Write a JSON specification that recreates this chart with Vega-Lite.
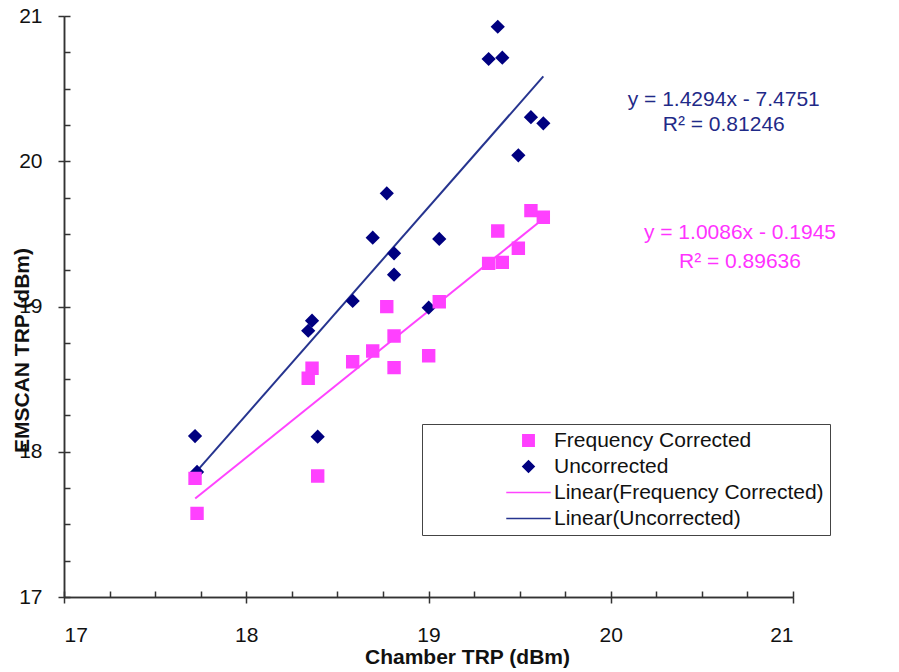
{
  "$schema": "https://vega.github.io/schema/vega-lite/v6.json",
  "autosize": {"type": "none"},
  "width": 729,
  "height": 581,
  "padding": {"left": 64, "top": 16, "right": 106, "bottom": 75},
  "background": "white",
  "config": {
    "view": {"stroke": null},
    "font": "Liberation Sans",
    "axis": {"grid": false, "domainColor": "#333333", "domainWidth": 1.5, "tickColor": "#333333", "tickWidth": 1.5, "labelFont": "Liberation Sans", "labelColor": "#111111", "titleFont": "Liberation Sans", "titleColor": "#111111"}
  },
  "datasets": {
    "points": [
      {"series": "Uncorrected", "x": 17.719, "y": 18.108},
      {"series": "Uncorrected", "x": 17.730, "y": 17.861},
      {"series": "Uncorrected", "x": 18.340, "y": 18.833},
      {"series": "Uncorrected", "x": 18.361, "y": 18.902},
      {"series": "Uncorrected", "x": 18.392, "y": 18.104},
      {"series": "Uncorrected", "x": 18.584, "y": 19.038},
      {"series": "Uncorrected", "x": 18.694, "y": 19.474},
      {"series": "Uncorrected", "x": 18.771, "y": 19.779},
      {"series": "Uncorrected", "x": 18.811, "y": 19.366},
      {"series": "Uncorrected", "x": 18.811, "y": 19.219},
      {"series": "Uncorrected", "x": 19.001, "y": 18.992},
      {"series": "Uncorrected", "x": 19.059, "y": 19.465},
      {"series": "Uncorrected", "x": 19.330, "y": 20.704},
      {"series": "Uncorrected", "x": 19.380, "y": 20.926},
      {"series": "Uncorrected", "x": 19.405, "y": 20.713},
      {"series": "Uncorrected", "x": 19.493, "y": 20.041},
      {"series": "Uncorrected", "x": 19.562, "y": 20.303},
      {"series": "Uncorrected", "x": 19.630, "y": 20.261},
      {"series": "Frequency Corrected", "x": 17.719, "y": 17.817},
      {"series": "Frequency Corrected", "x": 17.730, "y": 17.576},
      {"series": "Frequency Corrected", "x": 18.340, "y": 18.506},
      {"series": "Frequency Corrected", "x": 18.361, "y": 18.575},
      {"series": "Frequency Corrected", "x": 18.392, "y": 17.833},
      {"series": "Frequency Corrected", "x": 18.584, "y": 18.620},
      {"series": "Frequency Corrected", "x": 18.694, "y": 18.694},
      {"series": "Frequency Corrected", "x": 18.771, "y": 18.999},
      {"series": "Frequency Corrected", "x": 18.811, "y": 18.797},
      {"series": "Frequency Corrected", "x": 18.811, "y": 18.579},
      {"series": "Frequency Corrected", "x": 19.001, "y": 18.661},
      {"series": "Frequency Corrected", "x": 19.059, "y": 19.033},
      {"series": "Frequency Corrected", "x": 19.330, "y": 19.297},
      {"series": "Frequency Corrected", "x": 19.380, "y": 19.520},
      {"series": "Frequency Corrected", "x": 19.405, "y": 19.304},
      {"series": "Frequency Corrected", "x": 19.493, "y": 19.401},
      {"series": "Frequency Corrected", "x": 19.562, "y": 19.660},
      {"series": "Frequency Corrected", "x": 19.630, "y": 19.614}
    ],
    "lines": [
      {"series": "Linear(Frequency Corrected)", "x": 17.72, "y": 17.678},
      {"series": "Linear(Frequency Corrected)", "x": 19.63, "y": 19.604},
      {"series": "Linear(Uncorrected)", "x": 17.73, "y": 17.868},
      {"series": "Linear(Uncorrected)", "x": 19.63, "y": 20.584}
    ],
    "one": [{}]
  },
  "resolve": {"axis": {"x": "independent", "y": "independent"}},
  "layer": [
    {
      "data": {"name": "lines"},
      "mark": {"type": "line", "strokeWidth": 2},
      "encoding": {
        "x": {"field": "x", "type": "quantitative", "scale": {"domain": [17, 21], "nice": false, "zero": false},
              "axis": {"orient": "bottom", "values": [17, 17.25, 17.5, 17.75, 18, 18.25, 18.5, 18.75, 19, 19.25, 19.5, 19.75, 20, 20.25, 20.5, 20.75, 21], "tickSize": -6, "labels": false, "title": null}},
        "y": {"field": "y", "type": "quantitative", "scale": {"domain": [17, 21], "nice": false, "zero": false},
              "axis": {"orient": "left", "values": [17, 17.25, 17.5, 17.75, 18, 18.25, 18.5, 18.75, 19, 19.25, 19.5, 19.75, 20, 20.25, 20.5, 20.75, 21], "tickSize": -6, "labels": false, "title": null}},
        "detail": {"field": "series"},
        "stroke": {"field": "series", "type": "nominal", "legend": null,
                   "scale": {"domain": ["Linear(Frequency Corrected)", "Linear(Uncorrected)"], "range": ["#ff44ff", "#26348f"]}}
      }
    },
    {
      "data": {"name": "points"},
      "mark": {"type": "point", "filled": false, "opacity": 1, "size": 130, "strokeWidth": 2},
      "encoding": {
        "x": {"field": "x", "type": "quantitative",
              "axis": {"orient": "bottom", "values": [17, 18, 19, 20, 21], "tickSize": 6, "labelFontSize": 21, "labelPadding": 21,
                       "title": "Chamber TRP (dBm)", "titleFontSize": 21, "titleFontWeight": "bold", "titleX": 403, "titleY": 60, "titleAlign": "center", "titleBaseline": "middle"}},
        "y": {"field": "y", "type": "quantitative",
              "axis": {"orient": "left", "values": [17, 18, 19, 20, 21], "tickSize": 6, "labelFontSize": 21, "labelPadding": 16,
                       "title": "EMSCAN TRP (dBm)", "titleFontSize": 21, "titleFontWeight": "bold", "titleX": -42, "titleY": 334, "titleAngle": 270, "titleAlign": "center", "titleBaseline": "middle"}},
        "color": {"field": "series", "type": "nominal",
                  "scale": {"domain": ["Frequency Corrected", "Uncorrected", "Linear(Frequency Corrected)", "Linear(Uncorrected)"], "range": ["#ff40ff", "#000080", "#ff44ff", "#26348f"]},
                  "legend": {"orient": "none", "legendX": 358, "legendY": 408, "title": null, "padding": 6, "rowPadding": 4,
                             "symbolSize": 130, "symbolOffset": 90, "labelOffset": 15, "labelFontSize": 21, "labelFont": "Liberation Sans", "labelColor": "#111111",
                             "strokeColor": "#444444", "fillColor": "white", "labelLimit": 600,
                             "encode": {"legend": {"strokeWidth": {"value": 2}}}}},
        "fill": {"field": "series", "type": "nominal",
                 "scale": {"domain": ["Frequency Corrected", "Uncorrected", "Linear(Frequency Corrected)", "Linear(Uncorrected)"], "range": ["#ff40ff", "#000080", "transparent", "transparent"]}},
        "shape": {"field": "series", "type": "nominal",
                  "scale": {"domain": ["Frequency Corrected", "Uncorrected", "Linear(Frequency Corrected)", "Linear(Uncorrected)"], "range": ["square", "diamond", "M-3.9,0H3.9", "M-3.9,0H3.9"]}}
      }
    },
    {
      "data": {"name": "one"},
      "mark": {"type": "text", "fontSize": 21, "color": "#1f2a88", "align": "center", "baseline": "middle", "font": "Liberation Sans"},
      "encoding": {"x": {"datum": 20.62, "type": "quantitative", "axis": null}, "y": {"datum": 20.42, "type": "quantitative", "axis": null}, "text": {"value": "y = 1.4294x - 7.4751"}}
    },
    {
      "data": {"name": "one"},
      "mark": {"type": "text", "fontSize": 21, "color": "#1f2a88", "align": "center", "baseline": "middle", "font": "Liberation Sans"},
      "encoding": {"x": {"datum": 20.62, "type": "quantitative", "axis": null}, "y": {"datum": 20.25, "type": "quantitative", "axis": null}, "text": {"value": "R² = 0.81246"}}
    },
    {
      "data": {"name": "one"},
      "mark": {"type": "text", "fontSize": 21, "color": "#ff33ff", "align": "center", "baseline": "middle", "font": "Liberation Sans"},
      "encoding": {"x": {"datum": 20.709, "type": "quantitative", "axis": null}, "y": {"datum": 19.506, "type": "quantitative", "axis": null}, "text": {"value": "y = 1.0086x - 0.1945"}}
    },
    {
      "data": {"name": "one"},
      "mark": {"type": "text", "fontSize": 21, "color": "#ff33ff", "align": "center", "baseline": "middle", "font": "Liberation Sans"},
      "encoding": {"x": {"datum": 20.709, "type": "quantitative", "axis": null}, "y": {"datum": 19.306, "type": "quantitative", "axis": null}, "text": {"value": "R² = 0.89636"}}
    }
  ]
}
